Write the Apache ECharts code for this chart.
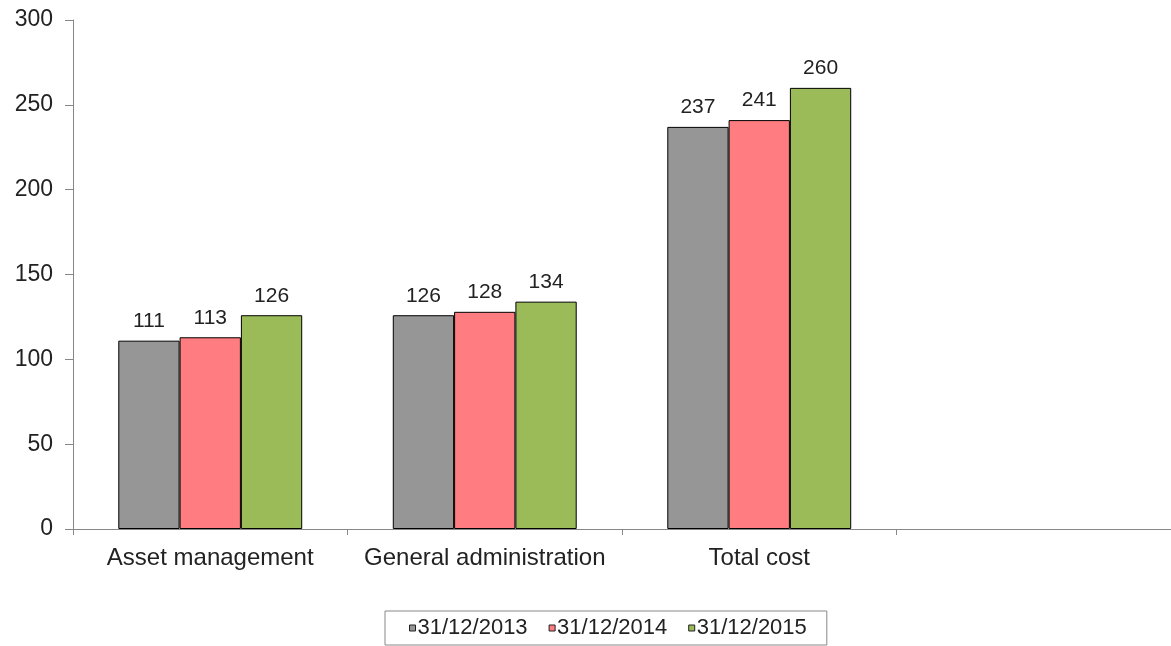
<!DOCTYPE html>
<html><head><meta charset="utf-8">
<script src="https://cdn.jsdelivr.net/npm/echarts@6/dist/echarts.min.js"></script>
<style>html,body{margin:0;padding:0;background:#fff}#c{width:1171px;height:646px}</style>
</head><body><div id="c"></div>
<script>
const categories = ['Asset management', 'General administration', 'Total cost', ''];
const seriesNames = ['31/12/2013', '31/12/2014', '31/12/2015'];
const v2013 = [111, 126, 237, null];
const v2014 = [113, 128, 241, null];
const v2015 = [126, 134, 260, null];
const yTicks = [0, 50, 100, 150, 200, 250, 300];
const colors = ['#969696', '#FF7C80', '#9BBB59'];

const chart = echarts.init(document.getElementById('c'));
const font = 'Liberation Sans, Arial, sans-serif';
const mk = (name, data, color) => ({
  name, type: 'bar', data, barGap: '0%', barCategoryGap: '33%',
  itemStyle: { color, borderColor: '#000', borderWidth: 1 },
  label: { show: true, position: 'top', distance: 9, color: '#222', fontSize: 21, fontFamily: font },
  emphasis: { disabled: true }
});
chart.setOption({
  animation: false,
  grid: { left: 73, right: 0, top: 20, bottom: 117, containLabel: false },
  legend: {
    left: 385, top: 611,
    data: seriesNames,
    icon: 'rect', itemWidth: 6, itemHeight: 6, itemGap: 21,
    padding: [6, 20, 6, 24],
    borderColor: '#888', borderWidth: 1,
    textStyle: { fontSize: 22, color: '#222', fontFamily: font, padding: [0, 0, 0, -3] },
    itemStyle: { borderColor: '#222', borderWidth: 1 }
  },
  xAxis: {
    type: 'category', data: categories,
    axisLine: { lineStyle: { color: '#888' } },
    axisTick: { show: true, interval: 0, length: 6, lineStyle: { color: '#888' } },
    axisLabel: { interval: 0, hideOverlap: false, fontSize: 24, color: '#222', fontFamily: font, margin: 17 }
  },
  yAxis: {
    type: 'value', min: yTicks[0], max: yTicks[yTicks.length - 1], interval: 50,
    splitLine: { show: false },
    axisLine: { show: true, lineStyle: { color: '#888' } },
    axisTick: { show: true, length: 8, lineStyle: { color: '#888' } },
    axisLabel: { fontSize: 23, color: '#222', fontFamily: font, margin: 20 }
  },
  series: [mk(seriesNames[0], v2013, colors[0]), mk(seriesNames[1], v2014, colors[1]), mk(seriesNames[2], v2015, colors[2])]
});
</script></body></html>
